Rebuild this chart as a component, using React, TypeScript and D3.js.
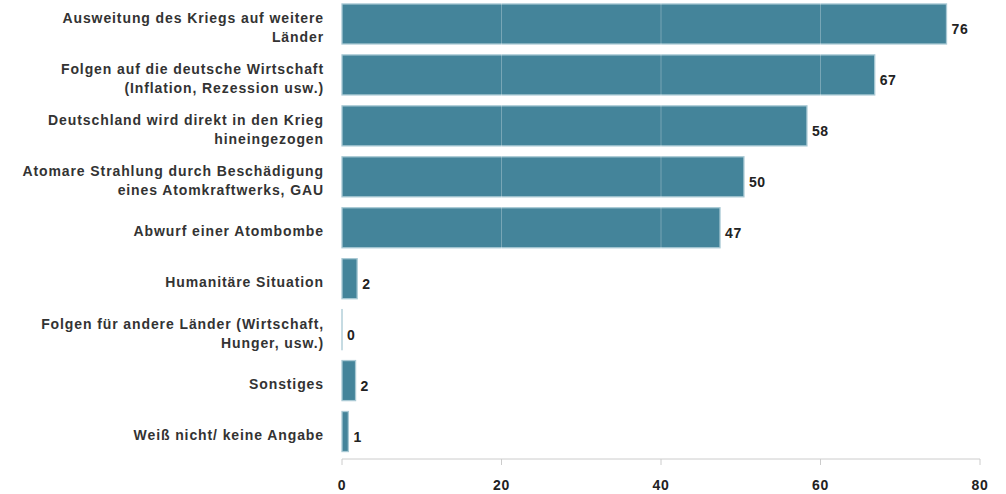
import React from "react";
import * as d3 from "d3";

const categories: string[][] = [
  ["Ausweitung des Kriegs auf weitere", "Länder"],
  ["Folgen auf die deutsche Wirtschaft", "(Inflation, Rezession usw.)"],
  ["Deutschland wird direkt in den Krieg", "hineingezogen"],
  ["Atomare Strahlung durch Beschädigung", "eines Atomkraftwerks, GAU"],
  ["Abwurf einer Atombombe"],
  ["Humanitäre Situation"],
  ["Folgen für andere Länder (Wirtschaft,", "Hunger, usw.)"],
  ["Sonstiges"],
  ["Weiß nicht/ keine Angabe"],
];
const values: number[] = [75.8, 66.8, 58.3, 50.4, 47.4, 1.9, 0, 1.7, 0.8];
const xTicks: number[] = [0, 20, 40, 60, 80];

const W = 1006;
const H = 494;
const x0 = 342;
const x1 = 980;
const axisY = 459;
const FONT = "'Liberation Sans', Arial, sans-serif";

export default function App() {
  const x = d3.scaleLinear().domain([0, 80]).range([x0, x1]);
  const keys = categories.map((_, i) => String(i));
  const y = d3
    .scaleBand<string>()
    .domain(keys)
    .range([-1.5, 457])
    .paddingInner(0.214)
    .paddingOuter(0.107);
  const bw = y.bandwidth();

  return (
    <svg
      width={W}
      height={H}
      style={{ position: "absolute", left: 0, top: 0, background: "#fff" }}
    >
      {values.map((v, i) => {
        const yy = y(String(i))!;
        return (
          <rect
            key={"b" + i}
            x={x(0)}
            y={yy}
            width={Math.max(x(v) - x(0), 0.01)}
            height={bw}
            fill="#44849a"
            stroke="#a9c9d4"
            strokeWidth={1.3}
          />
        );
      })}
      {xTicks.slice(1, 4).map((t) => (
        <line
          key={"g" + t}
          x1={x(t)}
          x2={x(t)}
          y1={0}
          y2={axisY}
          stroke="#ffffff"
          strokeOpacity={0.28}
          strokeWidth={1}
        />
      ))}
      <line x1={x(0)} x2={x(80)} y1={axisY} y2={axisY} stroke="#cccccc" strokeWidth={1} />
      {xTicks.map((t) => (
        <g key={"t" + t}>
          <line x1={x(t)} x2={x(t)} y1={axisY} y2={axisY + 6} stroke="#cccccc" strokeWidth={1} />
          <text
            x={x(t)}
            y={490}
            textAnchor="middle"
            fontFamily={FONT}
            fontWeight="bold"
            fontSize={14}
            letterSpacing={0.6}
            fill="#222"
          >
            {t}
          </text>
        </g>
      ))}
      {values.map((v, i) => {
        const cy = y(String(i))! + bw / 2;
        return (
          <text
            key={"v" + i}
            x={x(v) + 5}
            y={cy + 10}
            fontFamily={FONT}
            fontWeight="bold"
            fontSize={14}
            letterSpacing={0.6}
            fill="#222"
          >
            {Math.round(v)}
          </text>
        );
      })}
      {categories.map((lines, i) => {
        const cy = y(String(i))! + bw / 2 + 3.5;
        const lh = 19;
        const start = cy - ((lines.length - 1) * lh) / 2;
        return (
          <text
            key={"c" + i}
            textAnchor="end"
            fontFamily={FONT}
            fontWeight="bold"
            fontSize={14}
            letterSpacing={0.9}
            fill="#333"
          >
            {lines.map((l, j) => (
              <tspan key={j} x={324} y={start + j * lh + 5}>
                {l}
              </tspan>
            ))}
          </text>
        );
      })}
    </svg>
  );
}
